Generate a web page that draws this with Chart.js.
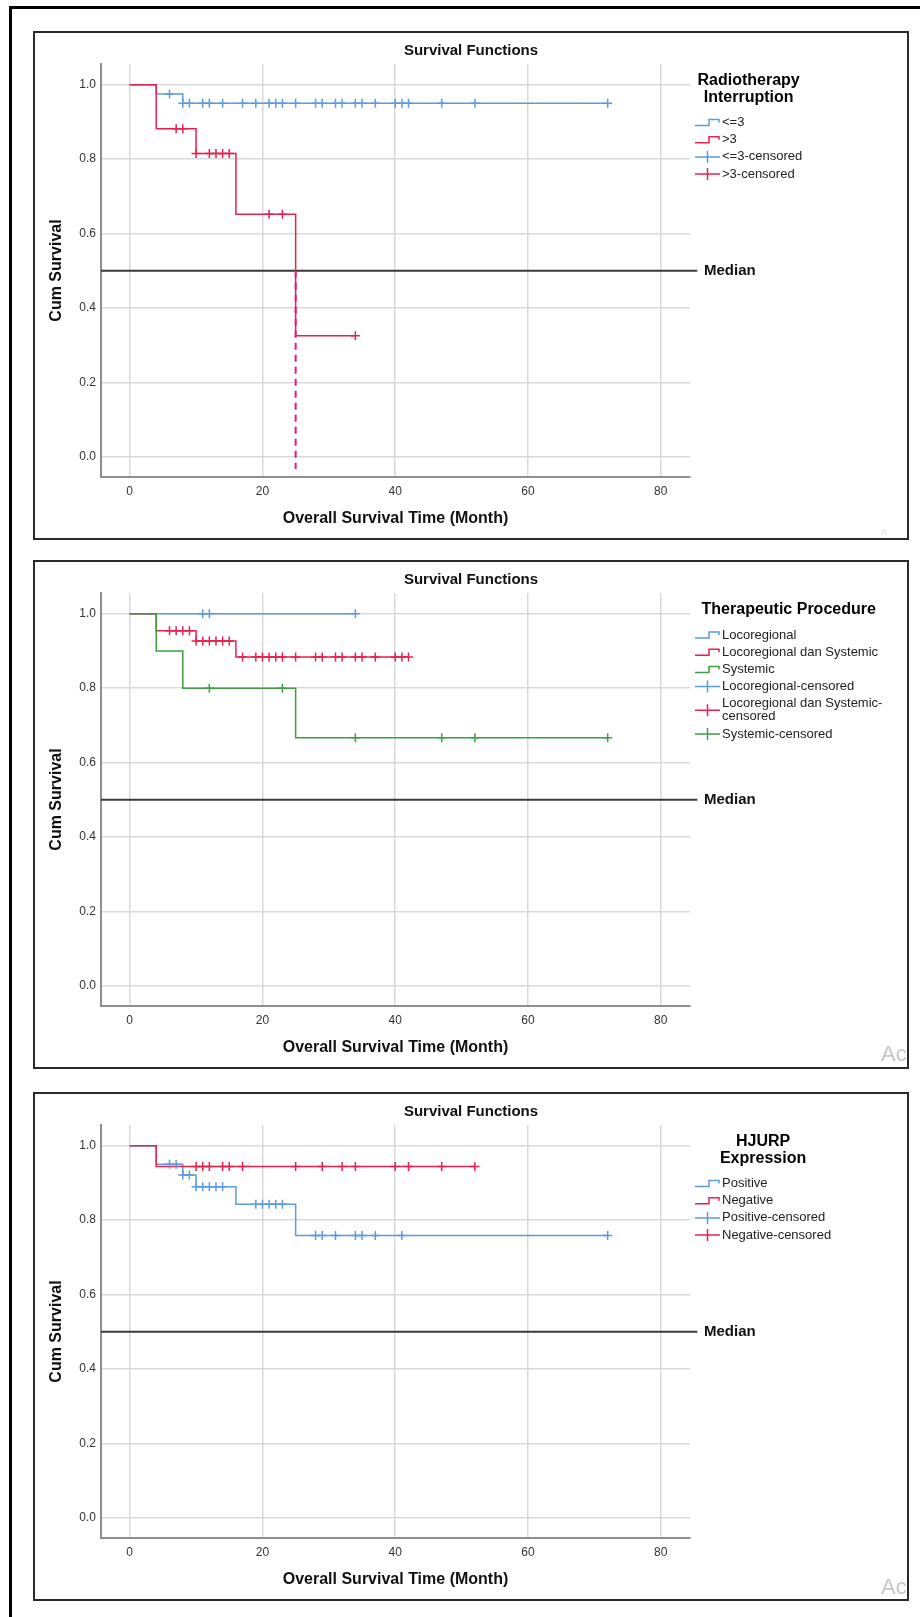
<!DOCTYPE html>
<html lang="en">
<head>
  <meta charset="UTF-8" />
  <title>Survival Functions</title>
  <script src="https://cdn.jsdelivr.net/npm/chart.js"></script>
  <style>
    body {
      margin: 0;
      width: 920px;
      height: 1617px;
      background: white;
      position: relative;
      overflow: hidden;
      font-family: 'Liberation Sans', Arial, sans-serif;
    }

    .frame {
      position: absolute;
      left: 9px;
      top: 6px;
      width: 960px;
      height: 1700px;
      border-left: 3px solid #000;
      border-top: 3px solid #000;
    }

    .panel {
      position: absolute;
      left: 33px;
      width: 876px;
      height: 509px;
      border: 2px solid #2a2a2a;
      box-sizing: border-box;
      overflow: hidden;
      background: white;
    }

    .panel canvas {
      position: absolute;
      left: 0;
      top: 0;
    }

    .mark {
      position: absolute;
      color: #c6c6c6;
      font-size: 22px;
      line-height: 22px;
      white-space: nowrap;
    }
  </style>
</head>
<body>

  <div class="frame"></div>

  <div class="panel" style="top:31px">
    <canvas id="rtChart" width="872" height="505"></canvas>
    <span class="mark" style="left:846px; top:495px; font-size:9px; line-height:9px; color:#d6d6d6">A</span>
  </div>

  <div class="panel" style="top:560px">
    <canvas id="procChart" width="872" height="505"></canvas>
    <span class="mark" style="left:846px; top:481px">Ac</span>
  </div>

  <div class="panel" style="top:1092px">
    <canvas id="hjurpChart" width="872" height="505"></canvas>
    <span class="mark" style="left:846px; top:482px">Ac</span>
  </div>

  <script>
    const FONT = "'Liberation Sans', Arial, Helvetica, sans-serif";
    const BLUE = "#5e9bdc";
    const RED = "#e3234f";
    const GREEN = "#3f9e3f";
    const DROP = "#e21a7d";

    // shared axes
    const timeTicks = [0, 20, 40, 60, 80];
    const survTicks = [0.0, 0.2, 0.4, 0.6, 0.8, 1.0];
    const medianLevel = 0.5;

    // Radiotherapy Interruption
    const rtLowTimes = [0, 4, 8, 72];
    const rtLowSurv = [1.0, 0.975, 0.95, 0.95];
    const rtLowCensored = [6, 8, 9, 11, 12, 14, 17, 19, 21, 22, 23, 25, 28, 29, 31, 32, 34, 35, 37, 40, 41, 42, 47, 52, 72];
    const rtHighTimes = [0, 4, 10, 16, 25, 34];
    const rtHighSurv = [1.0, 0.882, 0.815, 0.652, 0.326, 0.326];
    const rtHighCensored = [7, 8, 10, 12, 13, 14, 15, 21, 23, 34];
    const rtMedians = [25];

    // Therapeutic Procedure
    const locoTimes = [0, 34];
    const locoSurv = [1.0, 1.0];
    const locoCensored = [11, 12, 34];
    const ldsTimes = [0, 4, 10, 16, 42];
    const ldsSurv = [1.0, 0.954, 0.927, 0.884, 0.884];
    const ldsCensored = [6, 7, 8, 9, 10, 11, 12, 13, 14, 15, 17, 19, 20, 21, 22, 23, 25, 28, 29, 31, 32, 34, 35, 37, 40, 41, 42];
    const sysTimes = [0, 4, 8, 25, 72];
    const sysSurv = [1.0, 0.9, 0.8, 0.667, 0.667];
    const sysCensored = [12, 23, 34, 47, 52, 72];

    // HJURP Expression
    const posTimes = [0, 4, 8, 10, 16, 25, 72];
    const posSurv = [1.0, 0.95, 0.921, 0.89, 0.843, 0.759, 0.759];
    const posCensored = [6, 7, 8, 9, 10, 11, 12, 13, 14, 19, 20, 21, 22, 23, 28, 29, 31, 34, 35, 37, 41, 72];
    const negTimes = [0, 4, 52];
    const negSurv = [1.0, 0.944, 0.944];
    const negCensored = [10, 11, 12, 14, 15, 17, 25, 29, 32, 34, 40, 42, 47, 52];

    // survival level of a step curve at time t
    function levelAt(times, surv, t) {
      let s = surv[0];
      for (let i = 0; i < times.length; i++) {
        if (times[i] <= t) s = surv[i];
      }
      return s;
    }

    // legend, median label
    const kmExtras = {
      id: "kmExtras",
      afterDraw(chart, args, opts) {
        const { ctx, chartArea, scales } = chart;
        ctx.save();

        ctx.fillStyle = "#111";
        ctx.textBaseline = "middle";
        ctx.textAlign = "left";
        ctx.font = "bold 15px " + FONT;
        ctx.fillText("Median", chartArea.right + 14, scales.y.getPixelForValue(medianLevel));

        const x0 = chartArea.right + 5;
        ctx.font = "13px " + FONT;
        let w = 0;
        opts.items.forEach(it => it.label.forEach(l => { w = Math.max(w, ctx.measureText(l).width); }));
        const cx = x0 + (27 + w) / 2;

        ctx.font = "bold 16px " + FONT;
        ctx.textAlign = "center";
        ctx.fillStyle = "#000";
        let y = chartArea.top + 17;
        opts.title.forEach((line, i) => {
          if (i > 0) y += 16.5;
          ctx.fillText(line, cx, y);
        });
        y += 25;

        ctx.font = "13px " + FONT;
        ctx.textAlign = "left";
        ctx.fillStyle = "#222";
        ctx.lineWidth = 1.5;
        opts.items.forEach((it, i) => {
          if (i > 0) y += 17.2;
          const iy = y + (it.label.length - 1) * 6.5;
          ctx.strokeStyle = it.color;
          ctx.beginPath();
          if (it.kind === "step") {
            ctx.moveTo(x0, iy + 3);
            ctx.lineTo(x0 + 14, iy + 3);
            ctx.lineTo(x0 + 14, iy - 3);
            ctx.lineTo(x0 + 24, iy - 3);
            ctx.lineTo(x0 + 24, iy);
          } else {
            ctx.moveTo(x0, iy);
            ctx.lineTo(x0 + 25, iy);
            ctx.moveTo(x0 + 12.5, iy - 6);
            ctx.lineTo(x0 + 12.5, iy + 6);
          }
          ctx.stroke();
          it.label.forEach((l, j) => ctx.fillText(l, x0 + 27, y + j * 13));
          y += (it.label.length - 1) * 13;
        });

        ctx.restore();
      }
    };

    function drawKM(id, groups, medians, legendTitle, censoredLabels) {
      const datasets = [];

      // censored marks (last group on top)
      groups.slice().reverse().forEach(g => {
        datasets.push({
          data: g.censored.map(t => ({ x: t, y: levelAt(g.times, g.surv, t) })),
          showLine: false,
          pointStyle: "cross",
          pointRadius: 4.5,
          pointBorderWidth: 1.5,
          pointBorderColor: g.color,
          pointBackgroundColor: g.color
        });
      });

      // survival curves: flat until the next event, then drop
      groups.slice().reverse().forEach(g => {
        datasets.push({
          data: g.times.map((t, i) => ({ x: t, y: g.surv[i] })),
          stepped: "before",
          borderColor: g.color,
          borderWidth: 1.5,
          pointRadius: 0,
          fill: false
        });
      });

      // median drop line
      medians.forEach(m => {
        datasets.push({
          data: [{ x: m, y: medianLevel }, { x: m, y: -0.032 }],
          borderColor: DROP,
          borderWidth: 2,
          borderDash: [7, 5],
          pointRadius: 0
        });
      });

      // median reference line
      datasets.push({
        data: [{ x: -4.32, y: medianLevel }, { x: 85.5, y: medianLevel }],
        borderColor: "#3a3a3a",
        borderWidth: 2,
        pointRadius: 0,
        clip: false
      });

      const items = groups.map(g => ({ kind: "step", color: g.color, label: [g.name] }))
        .concat(groups.map((g, i) => ({ kind: "cross", color: g.color, label: censoredLabels[i] })));

      new Chart(document.getElementById(id), {
        type: "line",
        data: { datasets },
        plugins: [kmExtras],
        options: {
          responsive: false,
          animation: false,
          events: [],
          layout: { padding: 0 },
          plugins: {
            legend: { display: false },
            tooltip: { enabled: false },
            title: {
              display: true,
              text: "Survival Functions",
              color: "#111",
              font: { family: FONT, size: 15, weight: "bold" },
              padding: { top: 9, bottom: 4 }
            },
            kmExtras: { title: legendTitle, items }
          },
          scales: {
            x: {
              type: "linear",
              min: -4.32,
              max: 84.4,
              afterBuildTicks: s => { s.ticks = timeTicks.map(v => ({ value: v })); },
              afterFit: s => { s.height = 61; },
              grid: { color: "#d9d9d9", lineWidth: 1.5, drawTicks: false },
              border: { color: "#8e8e8e", width: 2 },
              ticks: {
                padding: 7,
                color: "#333",
                font: { family: FONT, size: 12 },
                callback: v => String(v)
              },
              title: {
                display: true,
                text: "Overall Survival Time (Month)",
                color: "#111",
                font: { family: FONT, size: 16, weight: "bold" },
                padding: { top: 0, bottom: 9.4 }
              }
            },
            y: {
              type: "linear",
              min: -0.0537,
              max: 1.0556,
              afterBuildTicks: s => { s.ticks = survTicks.map(v => ({ value: v })); },
              afterFit: s => { s.width = 66; },
              grid: { color: "#d9d9d9", lineWidth: 1.5, drawTicks: false },
              border: { color: "#8e8e8e", width: 2 },
              ticks: {
                padding: 5,
                color: "#333",
                font: { family: FONT, size: 12 },
                callback: v => v.toFixed(1)
              },
              title: {
                display: true,
                text: "Cum Survival",
                color: "#111",
                font: { family: FONT, size: 16, weight: "bold" },
                padding: { top: 12.4, bottom: 0 }
              }
            },
            // keeps room on the right for the legend
            yLegend: {
              type: "linear",
              position: "right",
              display: true,
              grid: { display: false, drawTicks: false },
              border: { display: false },
              ticks: { display: false },
              afterFit: s => { s.width = 217; }
            }
          }
        }
      });
    }

    drawKM("rtChart", [
      { name: "<=3", color: BLUE, times: rtLowTimes, surv: rtLowSurv, censored: rtLowCensored },
      { name: ">3", color: RED, times: rtHighTimes, surv: rtHighSurv, censored: rtHighCensored }
    ], rtMedians, ["Radiotherapy", "Interruption"], [["<=3-censored"], [">3-censored"]]);

    drawKM("procChart", [
      { name: "Locoregional", color: BLUE, times: locoTimes, surv: locoSurv, censored: locoCensored },
      { name: "Locoregional dan Systemic", color: RED, times: ldsTimes, surv: ldsSurv, censored: ldsCensored },
      { name: "Systemic", color: GREEN, times: sysTimes, surv: sysSurv, censored: sysCensored }
    ], [], ["Therapeutic Procedure"], [["Locoregional-censored"], ["Locoregional dan Systemic-", "censored"], ["Systemic-censored"]]);

    drawKM("hjurpChart", [
      { name: "Positive", color: BLUE, times: posTimes, surv: posSurv, censored: posCensored },
      { name: "Negative", color: RED, times: negTimes, surv: negSurv, censored: negCensored }
    ], [], ["HJURP", "Expression"], [["Positive-censored"], ["Negative-censored"]]);
  </script>

</body>
</html>
